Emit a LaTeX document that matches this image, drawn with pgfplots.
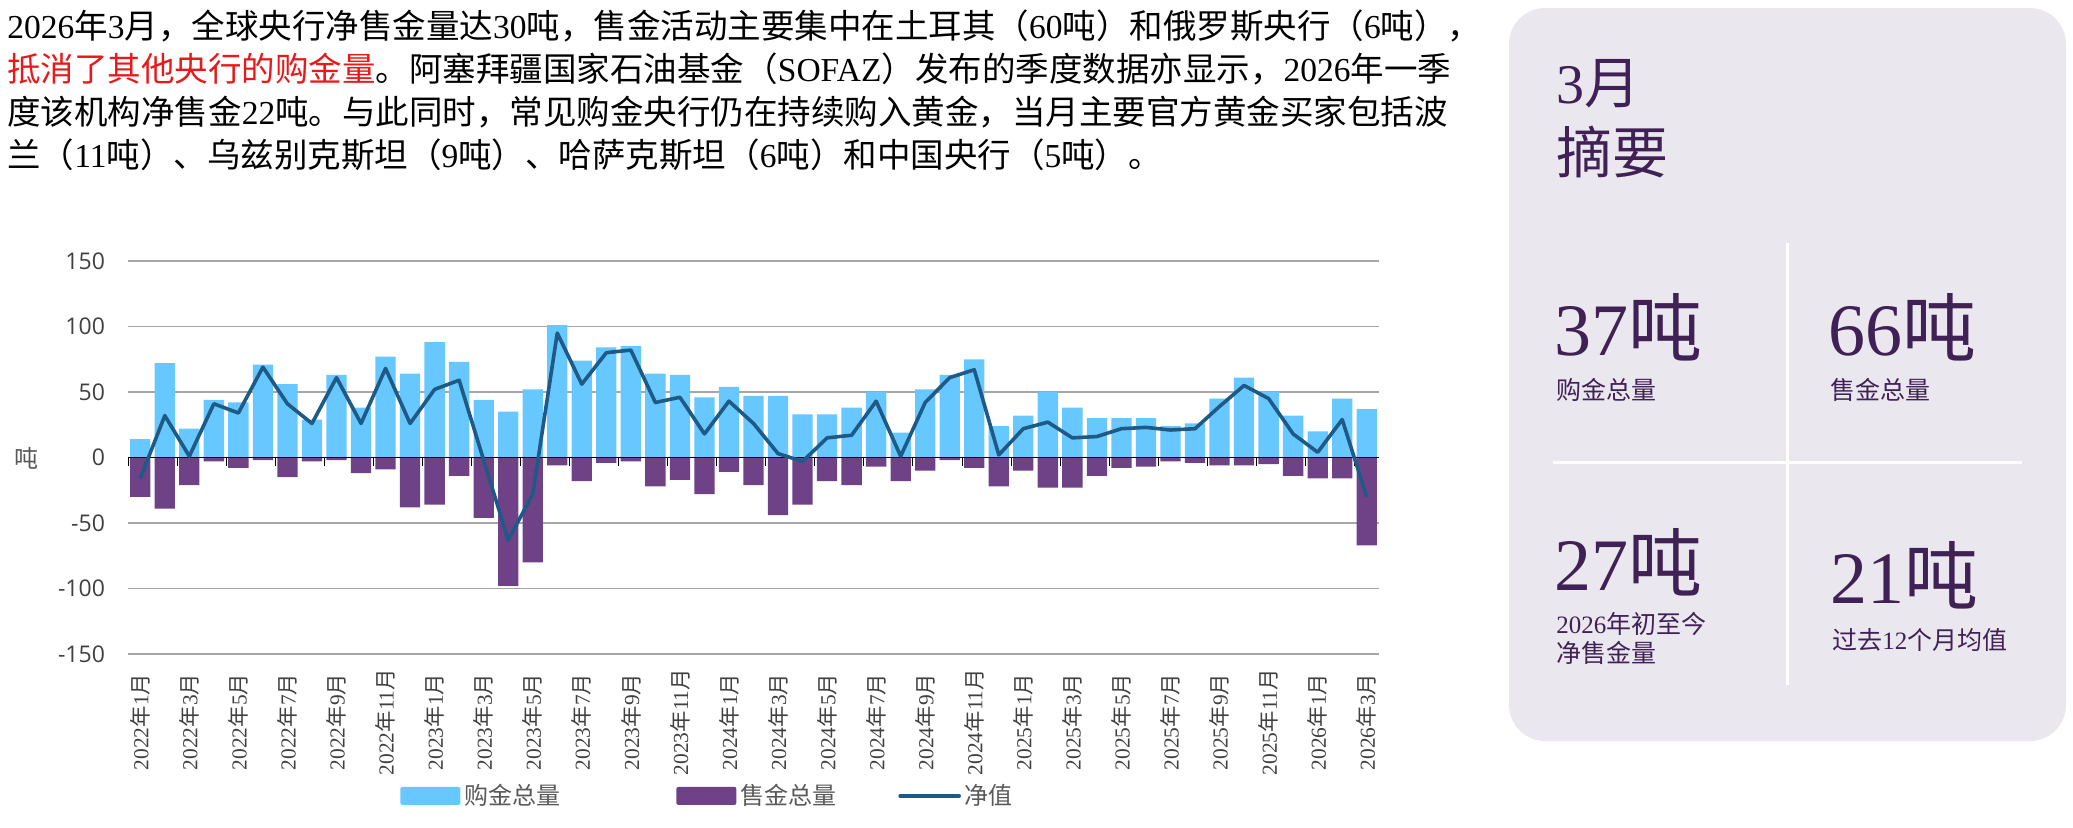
\documentclass[border=0pt]{standalone}
\usepackage{fontspec}
\usepackage{pgfplots}
\usepackage{pgfplotstable}
\pgfplotsset{compat=1.18}
\setmainfont{Noto Sans CJK SC}
\newfontfamily\tnr{Liberation Serif}
\newfontfamily\osans{Open Sans}
\newcommand\lat[1]{{\tnr #1}}
\newcommand\ml[2]{\lat{#1}年\lat{#2}月}

\definecolor{buyblue}{HTML}{66C8FF}
\definecolor{sellpurple}{HTML}{6F4187}
\definecolor{netblue}{HTML}{1F5A86}
\definecolor{gridgray}{HTML}{A6A6A6}
\definecolor{tickgray}{HTML}{404040}
\definecolor{leggray}{HTML}{595959}
\definecolor{hlred}{HTML}{E8191B}
\definecolor{panelbg}{HTML}{EBE7EE}
\definecolor{paneltext}{HTML}{3F2155}

% monthly central bank gold, tonnes (2022-01 .. 2026-03)
\pgfplotstableread{
x buy sell net
0 14 -30 -16
1 72 -39 32
2 22 -21 1
3 44 -3 41
4 42 -8 34
5 71 -2 69
6 56 -15 41
7 29 -3 26
8 63 -2 61
9 38 -12 26
10 77 -9 68
11 64 -38 26
12 88 -36 52
13 73 -14 59
14 44 -46 -2
15 35 -98 -63
16 52 -80 -28
17 101 -6 95
18 74 -18 56
19 84 -4 80
20 85 -3 82
21 64 -22 42
22 63 -17 46
23 46 -28 18
24 54 -11 43
25 47 -21 26
26 47 -44 3
27 33 -36 -3
28 33 -18 15
29 38 -21 17
30 50 -7 43
31 19 -18 1
32 52 -10 42
33 63 -2 61
34 75 -8 67
35 24 -22 2
36 32 -10 22
37 50 -23 27
38 38 -23 15
39 30 -14 16
40 30 -8 22
41 30 -7 23
42 24 -3 21
43 26 -4 22
44 45 -6 39
45 61 -6 55
46 50 -5 45
47 32 -14 18
48 20 -16 4
49 45 -16 29
50 37 -67 -30
}\data

\begin{document}
\begin{tikzpicture}
\useasboundingbox (0,0) rectangle (1036.5pt,-413.5pt);

% intro text
\begin{scope}[every node/.style={anchor=base west, inner sep=0pt, font=\fontsize{16.75}{20}\selectfont}]
\node at (3.5pt,-19pt) {\lat{2026}年\lat{3}月，全球央行净售金量达\lat{30}吨，售金活动主要集中在土耳其（\lat{60}吨）和俄罗斯央行（\lat{6}吨），};
\node at (3.5pt,-40.5pt) {\textcolor{hlred}{抵消了其他央行的购金量}。阿塞拜疆国家石油基金（\lat{SOFAZ}）发布的季度数据亦显示，\lat{2026}年一季};
\node at (3.5pt,-62pt) {度该机构净售金\lat{22}吨。与此同时，常见购金央行仍在持续购入黄金，当月主要官方黄金买家包括波};
\node at (3.5pt,-83.5pt) {兰（\lat{11}吨）、乌兹别克斯坦（\lat{9}吨）、哈萨克斯坦（\lat{6}吨）和中国央行（\lat{5}吨）。};
\end{scope}

% summary panel
\fill[panelbg, rounded corners=18pt] (754.5pt,-4pt) rectangle (1033pt,-370.5pt);
\draw[white, line width=1.5pt] (893.5pt,-121.5pt) -- (893.5pt,-342.5pt);
\draw[white, line width=1.5pt] (776.5pt,-231pt) -- (1011pt,-231pt);
\begin{scope}[every node/.style={anchor=base west, inner sep=0pt, text=paneltext}]
\node[font=\fontsize{28}{30}\selectfont] at (778pt,-51.5pt) {\lat{3}月};
\node[font=\fontsize{28}{30}\selectfont] at (778pt,-86.5pt) {摘要};
\node[font=\fontsize{37}{40}\selectfont] at (777pt,-177.5pt) {\lat{37}吨};
\node[font=\fontsize{12.5}{14}\selectfont] at (778pt,-199.5pt) {购金总量};
\node[font=\fontsize{37}{40}\selectfont] at (914pt,-177.5pt) {\lat{66}吨};
\node[font=\fontsize{12.5}{14}\selectfont] at (915pt,-199.5pt) {售金总量};
\node[font=\fontsize{37}{40}\selectfont] at (777pt,-295pt) {\lat{27}吨};
\node[font=\fontsize{12.5}{14}\selectfont] at (778pt,-316.5pt) {\lat{2026}年初至今};
\node[font=\fontsize{12.5}{14}\selectfont] at (778pt,-331pt) {净售金量};
\node[font=\fontsize{37}{40}\selectfont] at (915pt,-301.5pt) {\lat{21}吨};
\node[font=\fontsize{12.5}{14}\selectfont] at (916pt,-324.5pt) {过去\lat{12}个月均值};
\end{scope}

\node[font=\fontsize{12}{14}\selectfont, text=leggray] at (13pt,-229pt) {吨};

\begin{axis}[
    at={(64pt,-327pt)}, anchor=south west,
    scale only axis, width=625.5pt, height=196.5pt,
    xmin=-0.5, xmax=50.5, ymin=-150, ymax=150,
    ytick={-150,-100,...,150},
    xtick={0,2,...,50},
    xticklabels={\ml{2022}{1},\ml{2022}{3},\ml{2022}{5},\ml{2022}{7},\ml{2022}{9},\ml{2022}{11},
      \ml{2023}{1},\ml{2023}{3},\ml{2023}{5},\ml{2023}{7},\ml{2023}{9},\ml{2023}{11},
      \ml{2024}{1},\ml{2024}{3},\ml{2024}{5},\ml{2024}{7},\ml{2024}{9},\ml{2024}{11},
      \ml{2025}{1},\ml{2025}{3},\ml{2025}{5},\ml{2025}{7},\ml{2025}{9},\ml{2025}{11},
      \ml{2026}{1},\ml{2026}{3}},
    axis line style={draw=none},
    major tick length=0pt,
    ymajorgrids, grid style={gridgray, line width=0.65pt},
    /pgf/number format/assume math mode=true,
    y tick label style={font=\fontsize{11.5}{13}\osans, text=tickgray, xshift=-8pt},
    x tick label style={rotate=90, anchor=center, xshift=-34pt,
      font=\fontsize{10.7}{12}\selectfont, text=tickgray},
    legend columns=3,
    legend style={at={(0.2174,-0.361)}, anchor=west, draw=none, fill=none,
      inner sep=0pt, font=\fontsize{12}{14}\selectfont, text=leggray},
    legend cell align=left,
]
\addplot[ybar, bar width=10.15pt, bar shift=0pt, fill=buyblue, draw=none,
    legend image code/.code={\fill[buyblue, rounded corners=1pt] (0pt,-4.5pt) rectangle (30pt,4.5pt);}]
    table[x=x, y=buy] {\data};
\addlegendentry{购金总量\rule{56pt}{0pt}}
\addplot[ybar, bar width=10.15pt, bar shift=0pt, fill=sellpurple, draw=none,
    legend image code/.code={\fill[sellpurple, rounded corners=1pt] (0pt,-4.5pt) rectangle (30pt,4.5pt);}]
    table[x=x, y=sell] {\data};
\addlegendentry{售金总量\rule{29pt}{0pt}}
\draw[black, line width=0.6pt] (axis cs:-0.5,0) -- (axis cs:50.5,0);
\pgfplotsinvokeforeach{-0.5,1.5,...,49.5}{
  \draw[black, line width=0.5pt] (axis cs:#1,0) -- ++(0pt,-4pt);
}
\addplot[sharp plot, no markers, netblue, line width=1.8pt, line join=round,
    legend image code/.code={\draw[netblue, line width=1.8pt, line cap=round] (0pt,0pt) -- (29.5pt,0pt);}]
    table[x=x, y=net] {\data};
\addlegendentry{净值}
\end{axis}
\end{tikzpicture}
\end{document}
